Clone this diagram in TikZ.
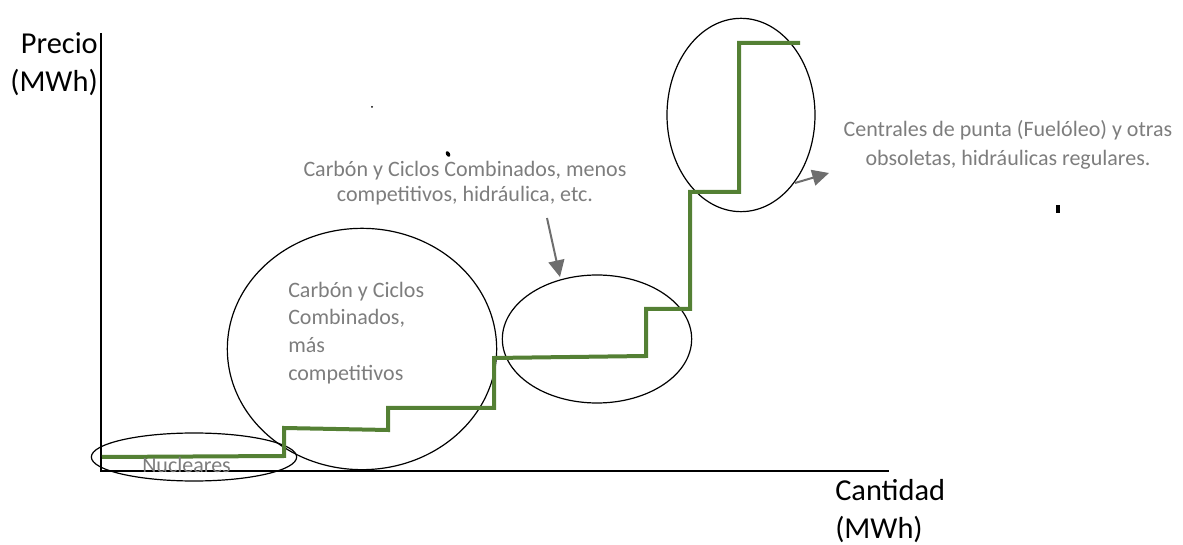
\documentclass[tikz,border=0pt]{standalone}
\usepackage{fontspec}
\setmainfont{Carlito}
\usetikzlibrary{shapes.geometric,arrows.meta}
\definecolor{stepgreen}{RGB}{84,128,52}
\definecolor{txtgray}{RGB}{125,125,125}
\definecolor{arrgray}{RGB}{110,110,110}
\tikzset{
  axis/.style={line width=2.2pt,black},
  supply/.style={line width=3pt,stepgreen,line join=miter},
  group/.style={ellipse,draw=black,line width=0.9pt,inner sep=0pt},
  label/.style={text=txtgray,font=\fontsize{16.5}{20.5}\selectfont,inner sep=0pt},
  axlabel/.style={text=black,font=\fontsize{22.8}{28.5}\selectfont,inner sep=0pt},
  pointer/.style={line width=1.5pt,arrgray,-{Triangle[length=12.5pt,width=12pt]}},
  speck/.style={fill=black,inner sep=0pt}
}
\begin{document}
\begin{tikzpicture}[x=0.75pt,y=-0.75pt]
\useasboundingbox (0,0) rectangle (1183,545);
% axes
\coordinate (ytop) at (101,33);
\coordinate (orig) at (101,471);
\coordinate (xend) at (889,471);
\draw[axis] (ytop) -- (orig) -- (xend);
% ellipses
\node[group,minimum width=154pt,minimum height=36pt] (nuc) at (194,457) {};
\node[group,minimum width=202pt,minimum height=181pt] (big) at (362,349) {};
\node[group,minimum width=142pt,minimum height=96pt] (mid) at (597,339) {};
\node[group,minimum width=111pt,minimum height=145pt] (top) at (741,115) {};
% supply step curve
\draw[supply] (102,457) -- (284,456) -- (284,428) -- (388,430) -- (388,408)
  -- (494,408) -- (494,358) -- (646,356) -- (646,309) -- (690,309)
  -- (690,192) -- (739,192) -- (739,43) -- (800,43);
% labels
\node[axlabel,anchor=east,align=right] (precio) at (98,64) {Precio\\(MWh)};
\node[axlabel,anchor=west,align=left] (cant) at (835,511) {Cantidad\\(MWh)};
\node[label,anchor=west] (nuctxt) at (142,465) {Nucleares};
\node[label,anchor=west,align=left,font=\fontsize{16.5}{20.8}\selectfont] (bigtxt) at (288,333)
  {Carbón y Ciclos\\Combinados,\\más\\competitivos};
\node[label,align=center,font=\fontsize{16.5}{18.5}\selectfont] (midtxt) at (465,183)
  {Carbón y Ciclos Combinados, menos\\competitivos, hidráulica, etc.};
\node[label,align=center,font=\fontsize{16.5}{21.5}\selectfont] (toptxt) at (1008,145)
  {Centrales de punta (Fuelóleo) y otras\\obsoletas, hidráulicas regulares.};
% pointers
\coordinate (p1s) at (547,218);
\coordinate (p1e) at (560,277);
\draw[pointer] (p1s) -- (p1e);
\coordinate (p2s) at (795,183);
\coordinate (p2e) at (829,173);
\draw[pointer] (p2s) -- (p2e);
% specks
\node[speck,circle,minimum size=1.5] (s1) at (372,107) {};
\node[speck,ellipse,minimum width=3,minimum height=4.5,rotate=30] (s2) at (448,154) {};
\node[speck,minimum width=2.5,minimum height=6] (s3) at (1058,209) {};
\end{tikzpicture}
\end{document}
